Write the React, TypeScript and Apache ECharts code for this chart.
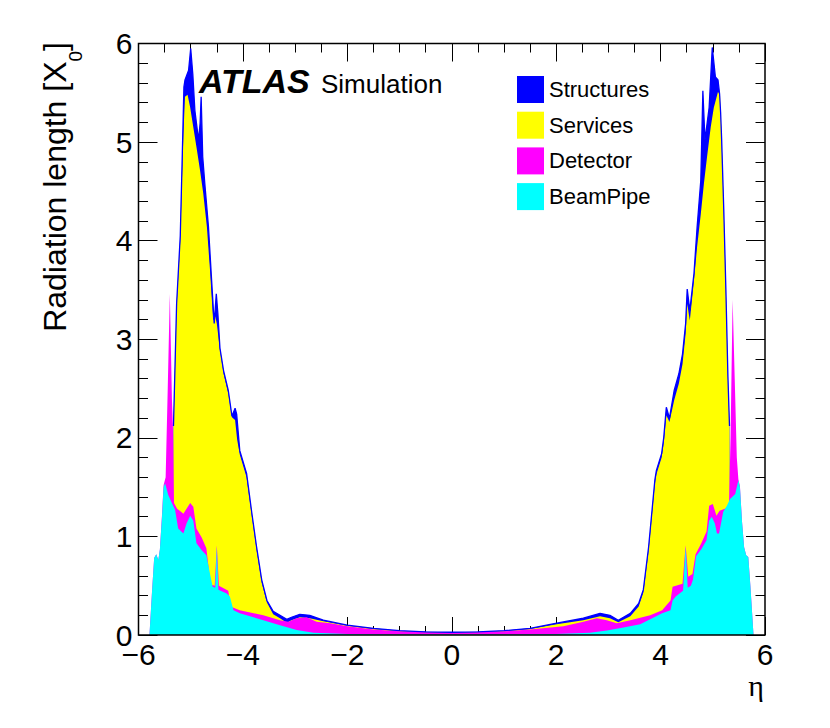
import React, { useEffect, useRef } from 'react';
import * as echarts from 'echarts';

// ---- Data (cumulative stack levels, as drawn by the stacked histogram) ----
const structuresEta = [
  -5.35, -5.33, -5.27, -5.2, -5.16, -5.13, -5.11, -5.04, -5.0, -4.96, -4.92, -4.85, -4.82, -4.8, -4.77,
  -4.73, -4.66, -4.6, -4.55, -4.51, -4.48, -4.44, -4.37, -4.28, -4.21, -4.15, -4.12, -4.06, -3.93,
  -3.83, -3.74, -3.64, -3.54, -3.42, -3.29, -3.16, -3.07, -2.91, -2.72, -2.46, -2.0, -1.5, -1.0, -0.5,
  0, 0.5, 1.0, 1.5, 2.01, 2.52, 2.84, 3.03, 3.19, 3.42, 3.58, 3.67, 3.77, 3.83, 3.89, 3.92, 4.02,
  4.06, 4.11, 4.17, 4.26, 4.35, 4.42, 4.48, 4.51, 4.56, 4.64, 4.7, 4.77, 4.81, 4.85, 4.93, 4.99,
  5.05, 5.1, 5.13, 5.15, 5.17, 5.21, 5.25, 5.29, 5.32, 5.34,
];
const structuresVal = [
  0, 2.12, 3.36, 4.05, 4.9, 5.56, 5.63, 5.73, 5.95, 5.69, 5.32, 5.02, 5.19, 5.46, 4.85,
  4.58, 4.14, 3.6, 3.16, 3.46, 3.26, 2.91, 2.68, 2.48, 2.22, 2.3, 2.24, 1.87, 1.64,
  1.24, 0.9, 0.56, 0.35, 0.24, 0.2, 0.16, 0.18, 0.21, 0.2, 0.15, 0.1, 0.068, 0.044, 0.032,
  0.028, 0.032, 0.044, 0.068, 0.12, 0.17, 0.22, 0.2, 0.15, 0.22, 0.32, 0.46, 0.89, 1.23, 1.57, 1.67, 1.84,
  2.0, 2.31, 2.2, 2.48, 2.65, 2.85, 3.16, 3.51, 3.29, 3.67, 4.14, 4.61, 5.52, 5.02, 5.35, 5.96,
  5.66, 5.63, 5.49, 5.3, 5.02, 4.32, 3.52, 2.62, 2.12, 0,
];

const servicesEta = [
  -5.35, -5.33, -5.27, -5.2, -5.17, -5.14, -5.11, -5.06, -5.01, -4.95, -4.89, -4.82, -4.76, -4.69,
  -4.63, -4.57, -4.53, -4.5, -4.44, -4.37, -4.28, -4.21, -4.15, -4.11, -4.06, -3.93, -3.83, -3.74,
  -3.64, -3.54, -3.42, -3.29, -3.16, -3.07, -2.91, -2.72, -2.46, -2.0, -1.5, -1.0, -0.5, 0, 0.5,
  1.0, 1.5, 2.01, 2.52, 2.84, 3.03, 3.19, 3.42, 3.58, 3.67, 3.77, 3.83, 3.89, 3.92, 4.02, 4.06,
  4.11, 4.17, 4.26, 4.35, 4.42, 4.48, 4.51, 4.56, 4.64, 4.7, 4.77, 4.83, 4.89, 4.96, 5.02, 5.1,
  5.14, 5.17, 5.21, 5.25, 5.29, 5.32, 5.34,
];
const servicesVal = [
  0, 2.1, 3.33, 4.0, 4.58, 5.08, 5.46, 5.48, 5.35, 5.15, 4.95, 4.71, 4.48, 4.14,
  3.7, 3.19, 3.23, 3.16, 2.89, 2.65, 2.45, 2.21, 2.18, 1.98, 1.83, 1.6, 1.21, 0.87,
  0.53, 0.33, 0.21, 0.17, 0.125, 0.15, 0.18, 0.17, 0.14, 0.095, 0.06, 0.04, 0.029, 0.026, 0.029,
  0.04, 0.06, 0.11, 0.15, 0.19, 0.17, 0.13, 0.19, 0.29, 0.43, 0.85, 1.19, 1.53, 1.63, 1.8, 1.95,
  2.23, 2.16, 2.38, 2.55, 2.75, 3.06, 3.36, 3.19, 3.6, 3.94, 4.27, 4.58, 4.85, 5.15, 5.35, 5.51,
  5.47, 5.0, 4.3, 3.5, 2.6, 2.1, 0,
];

const detectorEta = [
  -5.79, -5.74, -5.7, -5.66, -5.62, -5.59, -5.55, -5.52, -5.48, -5.44, -5.4, -5.36, -5.34, -5.32,
  -5.26, -5.21, -5.14, -5.08, -5.01, -4.95, -4.89, -4.79, -4.7, -4.64, -4.6, -4.54, -4.5, -4.46,
  -4.28, -4.24, -4.06, -3.61, -3.29, -3.13, -2.97, -2.78, -2.59, -2.33, -2.0, -1.5, -1.0, -0.5, 0,
  0.5, 1.0, 1.5, 2.14, 2.52, 2.78, 2.97, 3.16, 3.42, 3.8, 4.03, 4.19, 4.23, 4.42, 4.48, 4.53,
  4.61, 4.67, 4.78, 4.88, 4.93, 5.0, 5.07, 5.13, 5.23, 5.31, 5.34, 5.38, 5.42, 5.46, 5.49, 5.52,
  5.56, 5.6, 5.64, 5.68, 5.72, 5.78,
];
const detectorVal = [
  0, 0.45, 0.78, 0.82, 0.76, 0.87, 1.22, 1.52, 1.6, 2.5, 3.46, 2.4, 2.1, 1.34,
  1.28, 1.26, 1.23, 1.28, 1.34, 1.3, 1.08, 0.99, 0.88, 0.6, 0.51, 0.5, 0.91, 0.5,
  0.45, 0.29, 0.25, 0.2, 0.15, 0.135, 0.17, 0.18, 0.135, 0.12, 0.09, 0.057, 0.037, 0.027, 0.024,
  0.027, 0.037, 0.057, 0.09, 0.135, 0.17, 0.15, 0.12, 0.15, 0.2, 0.25, 0.35, 0.49, 0.52, 0.91, 0.59,
  0.62, 0.82, 0.93, 1.05, 1.31, 1.33, 1.21, 1.26, 1.28, 1.3, 2.0, 3.4, 2.6, 1.8, 1.58, 1.51,
  1.15, 0.89, 0.81, 0.79, 0.5, 0,
];

const beamPipeEta = [
  -5.79, -5.74, -5.7, -5.66, -5.62, -5.59, -5.55, -5.52, -5.49, -5.43, -5.37, -5.3, -5.24, -5.14,
  -5.08, -5.01, -4.95, -4.89, -4.79, -4.7, -4.63, -4.58, -4.53, -4.5, -4.47, -4.31, -4.25, -4.18,
  -4.06, -3.61, -3.29, -2.97, -2.65, -2.0, -1.0, 0, 1.0, 2.0, 2.65, 2.97, 3.29, 3.61, 4.03, 4.19,
  4.23, 4.29, 4.43, 4.48, 4.52, 4.58, 4.62, 4.68, 4.78, 4.88, 4.93, 4.98, 5.04, 5.08, 5.12, 5.2,
  5.27, 5.33, 5.43, 5.49, 5.52, 5.56, 5.6, 5.64, 5.68, 5.72, 5.78,
];
const beamPipeVal = [
  0, 0.45, 0.78, 0.82, 0.76, 0.87, 1.2, 1.5, 1.54, 1.42, 1.35, 1.27, 1.08, 1.03,
  1.13, 1.21, 1.16, 0.93, 0.86, 0.81, 0.62, 0.49, 0.48, 0.89, 0.46, 0.42, 0.39, 0.25,
  0.22, 0.15, 0.1, 0.05, 0.024, 0.01, 0.006, 0.005, 0.006, 0.01, 0.024, 0.045, 0.075, 0.11, 0.22, 0.25,
  0.35, 0.39, 0.45, 0.89, 0.48, 0.5, 0.56, 0.8, 0.87, 0.96, 1.16, 1.2, 1.13, 1.03, 1.03, 1.25,
  1.31, 1.38, 1.43, 1.57, 1.5, 1.15, 0.89, 0.81, 0.79, 0.5, 0,
];

const seriesNames = ['Structures', 'Services', 'Detector', 'BeamPipe'];
const xTickMin = -6;
const xTickMax = 6;
const yTickMin = 0;
const yTickMax = 6;

const FONT = '"Liberation Sans", Arial, Helvetica, sans-serif';
const COLORS: Record<string, string> = {
  Structures: '#0000ff',
  Services: '#ffff00',
  Detector: '#ff00ff',
  BeamPipe: '#00ffff',
};

const GRID = { left: 138.5, right: 65, top: 43.5, bottom: 93 };
const W = 830;
const H = 728;

const pairs = (xs: number[], ys: number[]) => xs.map((x, i) => [x, ys[i]]);

const fmt = (v: number) => (v < 0 ? '\u2212' + Math.abs(v) : String(v));

function mkX(position: 'bottom' | 'top', showLabel: boolean) {
  return {
    type: 'value',
    min: xTickMin,
    max: xTickMax,
    interval: 2,
    position,
    axisLine: { show: false, onZero: false },
    axisTick: { show: true, inside: true, length: 18, lineStyle: { color: '#000', width: 1 } },
    minorTick: { show: true, splitNumber: 4, length: 9, lineStyle: { color: '#000', width: 1 } },
    splitLine: { show: false },
    minorSplitLine: { show: false },
    axisLabel: {
      show: showLabel,
      fontSize: 30,
      color: '#000',
      fontFamily: FONT,
      margin: 4,
      formatter: fmt,
      showMinLabel: true,
      showMaxLabel: true,
    },
  };
}

function mkY(position: 'left' | 'right', showLabel: boolean) {
  return {
    type: 'value',
    min: yTickMin,
    max: yTickMax,
    interval: 1,
    position,
    axisLine: { show: false, onZero: false },
    axisTick: { show: true, inside: true, length: 19, lineStyle: { color: '#000', width: 1 } },
    minorTick: { show: true, splitNumber: 5, length: 9.5, lineStyle: { color: '#000', width: 1 } },
    splitLine: { show: false },
    minorSplitLine: { show: false },
    axisLabel: {
      show: showLabel,
      fontSize: 30,
      color: '#000',
      fontFamily: FONT,
      margin: 6,
      showMinLabel: true,
      showMaxLabel: true,
    },
  };
}

function areaSeries(name: string, xs: number[], ys: number[]) {
  return {
    name,
    type: 'line',
    data: pairs(xs, ys),
    symbol: 'none',
    showSymbol: false,
    silent: true,
    smooth: false,
    z: 2,
    lineStyle: { width: 0, color: COLORS[name] },
    itemStyle: { color: COLORS[name] },
    areaStyle: { color: COLORS[name], opacity: 1, origin: 'start' },
  };
}

export default function App() {
  const ref = useRef<HTMLDivElement>(null);

  useEffect(() => {
    if (!ref.current) return;
    const chart = echarts.init(ref.current, null, { renderer: 'svg' });
    const plotW = W - GRID.left - GRID.right;
    const plotH = H - GRID.top - GRID.bottom;

    const option: any = {
      animation: false,
      backgroundColor: '#fff',
      grid: { ...GRID, containLabel: false, outerBoundsMode: 'none' },
      xAxis: [mkX('bottom', true), mkX('top', false)],
      yAxis: [mkY('left', true), mkY('right', false)],
      legend: {
        data: seriesNames.map((n) => ({ name: n, icon: 'rect' })),
        orient: 'vertical',
        left: 517,
        top: 76,
        padding: 0,
        itemWidth: 27,
        itemHeight: 27,
        itemGap: 8.7,
        selectedMode: false,
        textStyle: { fontSize: 22, color: '#000', fontFamily: FONT },
      },
      series: [
        areaSeries('Structures', structuresEta, structuresVal),
        areaSeries('Services', servicesEta, servicesVal),
        areaSeries('Detector', detectorEta, detectorVal),
        areaSeries('BeamPipe', beamPipeEta, beamPipeVal),
        {
          name: 'StructuresEdge',
          type: 'line',
          data: pairs(structuresEta.slice(1, -1), structuresVal.slice(1, -1)),
          symbol: 'none',
          showSymbol: false,
          silent: true,
          z: 3,
          lineStyle: { width: 1.3, color: COLORS.Structures },
        },
      ],
      graphic: [
        {
          type: 'rect',
          z: 100,
          silent: true,
          shape: { x: GRID.left, y: GRID.top, width: plotW, height: plotH },
          style: { fill: 'none', stroke: '#000', lineWidth: 1.5 },
        },
        {
          type: 'text',
          z: 100,
          x: 199,
          y: 80.5,
          style: {
            text: 'ATLAS',
            fill: '#000',
            fontSize: 34,
            fontWeight: 'bold',
            fontStyle: 'italic',
            fontFamily: FONT,
            verticalAlign: 'middle',
            align: 'left',
          },
        },
        {
          type: 'text',
          z: 100,
          x: 321,
          y: 83.5,
          style: {
            text: 'Simulation',
            fill: '#000',
            fontSize: 26,
            fontFamily: FONT,
            verticalAlign: 'middle',
            align: 'left',
          },
        },
        {
          type: 'text',
          z: 100,
          x: 764,
          y: 685.5,
          style: {
            text: '\u03b7',
            fill: '#000',
            fontSize: 30,
            fontFamily: '"Liberation Serif", "DejaVu Serif", serif',
            verticalAlign: 'middle',
            align: 'right',
          },
        },
        {
          type: 'text',
          z: 100,
          x: 55,
          y: 42,
          rotation: Math.PI / 2,
          style: {
            text: '{m|Radiation length [X}{s|0}{m|]}',
            align: 'right',
            verticalAlign: 'middle',
            rich: {
              m: { fontSize: 32, fontFamily: FONT, fill: '#000' },
              s: { fontSize: 19, fontFamily: FONT, fill: '#000', padding: [40, 0, 0, 0] },
            },
          },
        },
      ],
    };

    chart.setOption(option);
    return () => chart.dispose();
  }, []);

  return (
    <div
      ref={ref}
      style={{ position: 'fixed', left: 0, top: 0, width: W, height: H, background: '#fff' }}
    />
  );
}
